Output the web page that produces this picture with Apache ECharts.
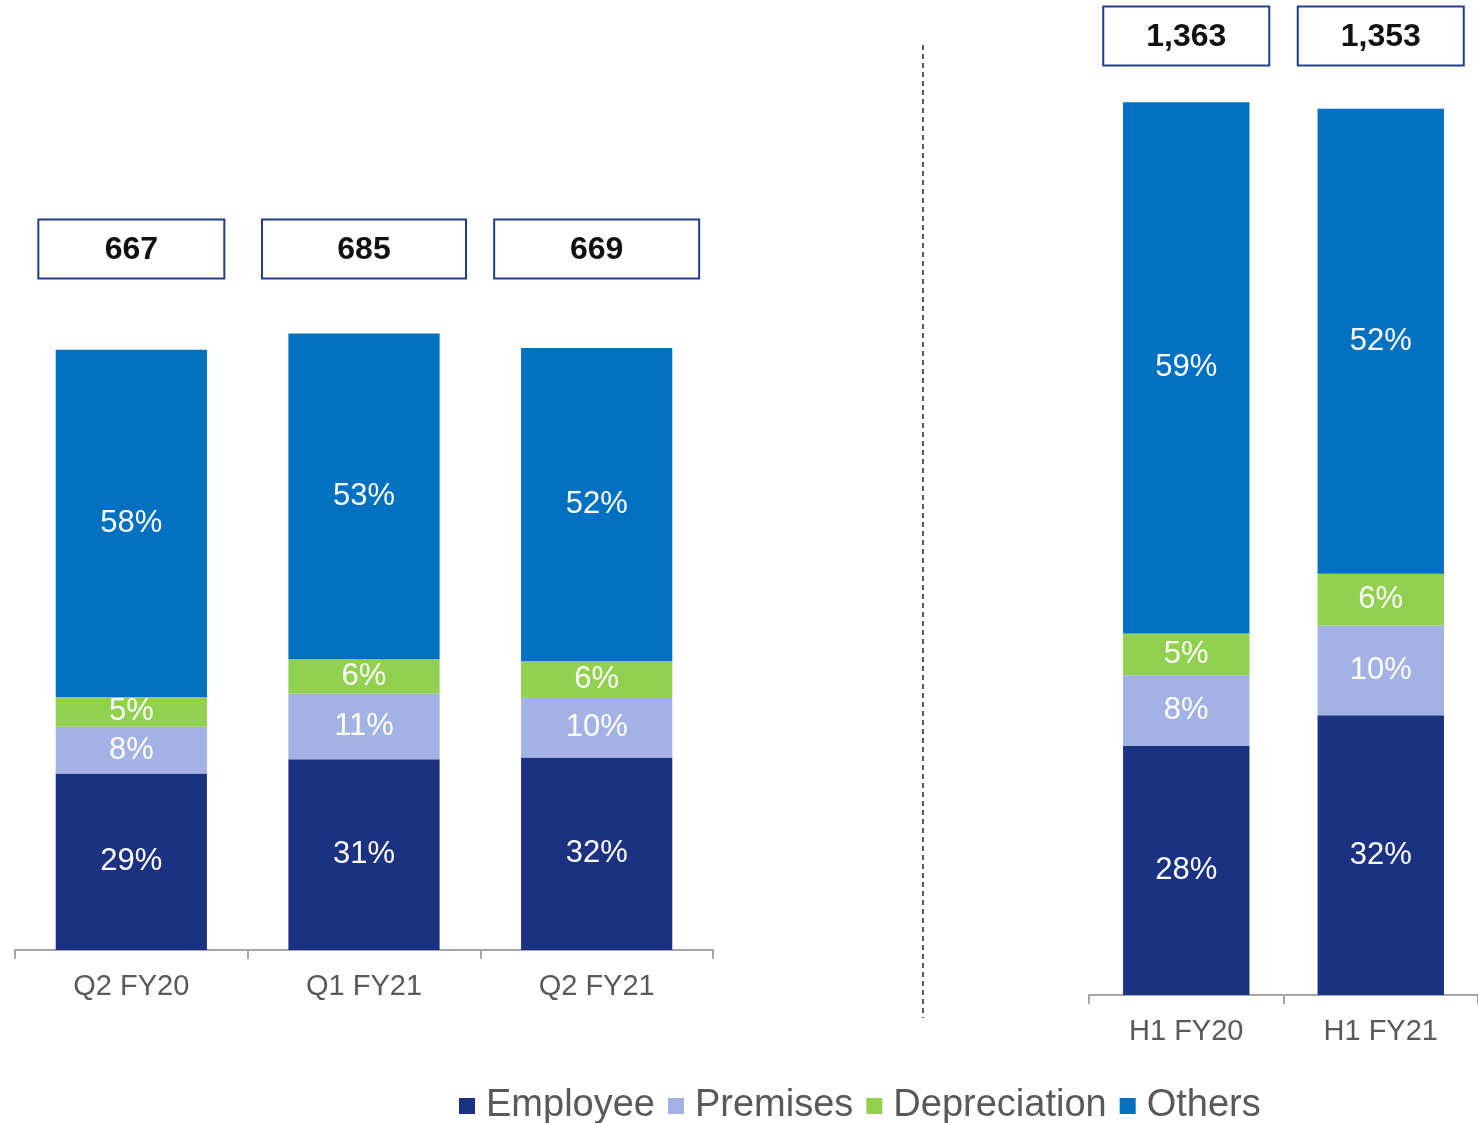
<!DOCTYPE html>
<html>
<head>
<meta charset="utf-8">
<script src="https://cdn.jsdelivr.net/npm/echarts@6/dist/echarts.min.js"></script>
<style>
  html, body { margin: 0; padding: 0; background: #fff; }
  #chart { width: 1478px; height: 1123px; }
</style>
</head>
<body>
<div id="chart"></div>
<script>
// quarterly (left) and half-year (right) cost mix
const quarters = ['Q2 FY20', 'Q1 FY21', 'Q2 FY21']
const halves = ['H1 FY20', 'H1 FY21']

const quarterTotals = ['667', '685', '669']
const halfTotals = ['1,363', '1,353']

// segment amounts
const qEmployee = [196, 212, 214]
const qPremises = [52, 73, 67]
const qDepreciation = [33, 38, 40]
const qOthers = [386, 362, 348]

const hEmployee = [380, 427]
const hPremises = [108, 137]
const hDepreciation = [64, 79]
const hOthers = [811, 710]

// printed share labels
const qEmployeePct = ['29%', '31%', '32%']
const qPremisesPct = ['8%', '11%', '10%']
const qDepreciationPct = ['5%', '6%', '6%']
const qOthersPct = ['58%', '53%', '52%']

const hEmployeePct = ['28%', '32%']
const hPremisesPct = ['8%', '10%']
const hDepreciationPct = ['5%', '6%']
const hOthersPct = ['59%', '52%']

const names = ['Employee', 'Premises', 'Depreciation', 'Others']
const colors = ['#1b3282', '#a2b2e4', '#92d050', '#0070c0']

const font = 'Arial, "Liberation Sans", sans-serif'

const chart = echarts.init(document.getElementById('chart'))

const makeSeries = (name, color, values, pcts, idx) => ({
  name,
  type: 'bar',
  stack: 'cost' + idx,
  xAxisIndex: idx,
  yAxisIndex: idx,
  barWidth: '65%',
  itemStyle: { color },
  label: {
    show: true,
    position: 'inside',
    color: '#fff',
    fontSize: 31,
    fontFamily: font,
    formatter: (p) => pcts[p.dataIndex]
  },
  data: values
})

// boxed total above each bar
const boxStyle = (w) => ({
  color: '#111',
  fontSize: 32,
  fontWeight: 'bold',
  fontFamily: font,
  backgroundColor: '#fff',
  borderColor: '#223d8c',
  borderWidth: 2,
  width: w,
  align: 'center',
  lineHeight: 32,
  padding: [14, 0, 11, 0]
})

const totalLabel = (margin, widths) => {
  const rich = {}
  widths.forEach((w, i) => { rich['b' + i] = boxStyle(w) })
  return {
    margin,
    formatter: (v, i) => `{b${i}|${v}}`,
    rich
  }
}

const catAxisLabel = {
  color: '#595959',
  fontSize: 29,
  fontFamily: font,
  margin: 22
}

const baseLine = { lineStyle: { color: '#a6a6a6', width: 2 } }
const baseTick = { show: true, length: 9, lineStyle: { color: '#a6a6a6', width: 2 } }

chart.setOption({
  animation: false,
  legend: {
    data: names,
    left: 454,
    top: 1082,
    icon: 'rect',
    itemWidth: 16,
    itemHeight: 16,
    itemGap: 13,
    textStyle: { color: '#595959', fontSize: 38, fontFamily: font, padding: [0, 0, 0, 6] }
  },
  grid: [
    { left: 15, right: 765, top: 320, bottom: 173 },
    { left: 1089, right: -5, top: 78, bottom: 128 }
  ],
  xAxis: [
    {
      type: 'category', gridIndex: 0, data: quarters,
      axisLine: baseLine, axisTick: baseTick, axisLabel: catAxisLabel
    },
    {
      type: 'category', gridIndex: 1, data: halves,
      axisLine: baseLine, axisTick: baseTick, axisLabel: catAxisLabel
    },
    {
      type: 'category', gridIndex: 0, data: quarterTotals, position: 'top',
      axisLine: { show: false }, axisTick: { show: false },
      axisLabel: totalLabel(55, [184, 202, 203])
    },
    {
      type: 'category', gridIndex: 1, data: halfTotals, position: 'top',
      axisLine: { show: false }, axisTick: { show: false },
      axisLabel: totalLabel(26, [164, 164])
    }
  ],
  yAxis: [
    { type: 'value', gridIndex: 0, min: 0, max: 700, show: false },
    { type: 'value', gridIndex: 1, min: 0, max: 1400, show: false }
  ],
  graphic: [
    {
      type: 'line',
      shape: { x1: 923, y1: 45, x2: 923, y2: 1018 },
      style: { stroke: '#222', lineWidth: 1.5, lineDash: [5, 4] }
    }
  ],
  series: [
    makeSeries('Employee', colors[0], qEmployee, qEmployeePct, 0),
    makeSeries('Premises', colors[1], qPremises, qPremisesPct, 0),
    makeSeries('Depreciation', colors[2], qDepreciation, qDepreciationPct, 0),
    makeSeries('Others', colors[3], qOthers, qOthersPct, 0),
    makeSeries('Employee', colors[0], hEmployee, hEmployeePct, 1),
    makeSeries('Premises', colors[1], hPremises, hPremisesPct, 1),
    makeSeries('Depreciation', colors[2], hDepreciation, hDepreciationPct, 1),
    makeSeries('Others', colors[3], hOthers, hOthersPct, 1)
  ]
})
</script>
</body>
</html>
